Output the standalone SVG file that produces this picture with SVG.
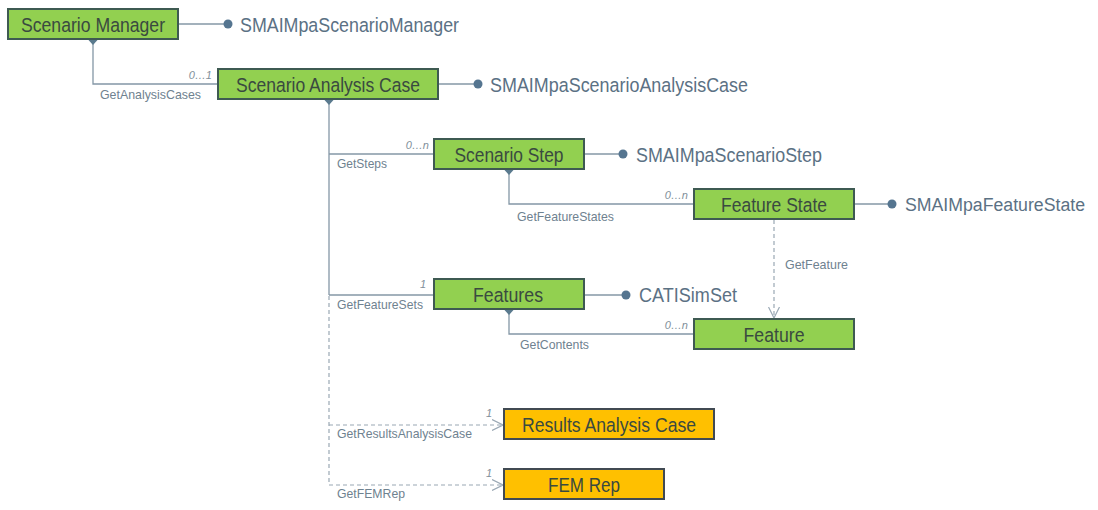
<svg xmlns="http://www.w3.org/2000/svg" width="1098" height="510" viewBox="0 0 1098 510">
<defs>
<style>
.box{fill:#92d050;stroke:#3e5a52;stroke-width:2}
.obox{fill:#ffc000;stroke:#414a52;stroke-width:2}
.bt{font-family:"Liberation Sans",Arial,sans-serif;font-size:20.5px;fill:#3a4a40;text-anchor:middle}
.it{font-family:"Liberation Sans",Arial,sans-serif;font-size:20.5px;fill:#5b7184}
.lb{font-family:"Liberation Sans",Arial,sans-serif;font-size:13px;fill:#6f8290}
.mu{font-family:"Liberation Sans",Arial,sans-serif;font-size:11px;font-style:italic;fill:#7f8f9a;text-anchor:end}
.ln{fill:none;stroke:#8497a6;stroke-width:1.3}
.dl{fill:none;stroke:#9aa8b4;stroke-width:1.2;stroke-dasharray:4,3}
.dot{fill:#557590}
.dia{fill:#5a7a8e}
</style>
<marker id="oa" viewBox="0 0 12 12" refX="11" refY="6" markerWidth="12" markerHeight="12" markerUnits="userSpaceOnUse" orient="auto">
<path d="M0,0.5 L11,6 L0,11.5" fill="none" stroke="#9aa8b4" stroke-width="1.2"/>
</marker>
</defs>
<g id="connectors">
<line class="ln" x1="178" y1="24" x2="228" y2="24"/>
<circle class="dot" cx="228" cy="24" r="4.5"/>
<line class="ln" x1="438" y1="84" x2="478" y2="84"/>
<circle class="dot" cx="478" cy="84" r="4.5"/>
<line class="ln" x1="584" y1="154" x2="623" y2="154"/>
<circle class="dot" cx="623" cy="154" r="4.5"/>
<line class="ln" x1="854" y1="204" x2="892" y2="204"/>
<circle class="dot" cx="892" cy="204" r="4.5"/>
<line class="ln" x1="584" y1="295" x2="626" y2="295"/>
<circle class="dot" cx="626" cy="295" r="4.5"/>
<polyline class="ln" points="93,40 93,84 218,84"/>
<path class="dia" d="M93,35 L97.5,40 L93,45 L88.5,40 Z"/>
<polyline class="ln" points="329,100 329,295"/>
<line class="ln" x1="329" y1="154" x2="433" y2="154"/>
<line class="ln" x1="329" y1="295" x2="434" y2="295"/>
<path class="dia" d="M329,95 L333.5,100 L329,105 L324.5,100 Z"/>
<polyline class="ln" points="509,170 509,204 693,204"/>
<path class="dia" d="M509,165 L513.5,170 L509,175 L504.5,170 Z"/>
<polyline class="ln" points="509,310 509,334 693,334"/>
<path class="dia" d="M509,305 L513.5,310 L509,315 L504.5,310 Z"/>
<polyline class="dl" points="329,296 329,485"/>
<line class="dl" x1="329" y1="425" x2="503" y2="425" marker-end="url(#oa)"/>
<line class="dl" x1="329" y1="485" x2="503" y2="485" marker-end="url(#oa)"/>
<line class="dl" x1="774" y1="220" x2="774" y2="318" marker-end="url(#oa)"/>
<text class="lb" x="100" y="99" textLength="101" lengthAdjust="spacingAndGlyphs">GetAnalysisCases</text>
<text class="mu" x="212" y="79">0…1</text>
<text class="lb" x="337" y="168" textLength="50" lengthAdjust="spacingAndGlyphs">GetSteps</text>
<text class="mu" x="429" y="149">0…n</text>
<text class="lb" x="517" y="221" textLength="97" lengthAdjust="spacingAndGlyphs">GetFeatureStates</text>
<text class="mu" x="688" y="199">0…n</text>
<text class="lb" x="785" y="269" textLength="63" lengthAdjust="spacingAndGlyphs">GetFeature</text>
<text class="lb" x="337" y="309" textLength="86" lengthAdjust="spacingAndGlyphs">GetFeatureSets</text>
<text class="mu" x="426" y="288">1</text>
<text class="lb" x="520" y="349" textLength="69" lengthAdjust="spacingAndGlyphs">GetContents</text>
<text class="mu" x="688" y="329">0…n</text>
<text class="lb" x="337" y="438" textLength="135" lengthAdjust="spacingAndGlyphs">GetResultsAnalysisCase</text>
<text class="mu" x="492" y="417">1</text>
<text class="lb" x="337" y="498" textLength="68" lengthAdjust="spacingAndGlyphs">GetFEMRep</text>
<text class="mu" x="492" y="477">1</text>
</g>
<g id="scenario-manager">
<rect class="box" x="8" y="9" width="170" height="30"/>
<text class="bt" x="93" y="31.5" textLength="144" lengthAdjust="spacingAndGlyphs">Scenario Manager</text>
<text class="it" x="240" y="31.5" textLength="219" lengthAdjust="spacingAndGlyphs">SMAIMpaScenarioManager</text>
</g>
<g id="scenario-analysis-case">
<rect class="box" x="218" y="69" width="220" height="30"/>
<text class="bt" x="328" y="91.5" textLength="184" lengthAdjust="spacingAndGlyphs">Scenario Analysis Case</text>
<text class="it" x="490" y="91.5" textLength="258" lengthAdjust="spacingAndGlyphs">SMAIMpaScenarioAnalysisCase</text>
</g>
<g id="scenario-step">
<rect class="box" x="434" y="139" width="150" height="30"/>
<text class="bt" x="509" y="161.5" textLength="109" lengthAdjust="spacingAndGlyphs">Scenario Step</text>
<text class="it" x="636" y="161.5" textLength="186" lengthAdjust="spacingAndGlyphs">SMAIMpaScenarioStep</text>
</g>
<g id="feature-state">
<rect class="box" x="694" y="189" width="160" height="30"/>
<text class="bt" x="774" y="211.5" textLength="106" lengthAdjust="spacingAndGlyphs">Feature State</text>
<text class="it" x="905" y="211" style="font-size:18px" textLength="180" lengthAdjust="spacingAndGlyphs">SMAIMpaFeatureState</text>
</g>
<g id="features">
<rect class="box" x="434" y="279" width="150" height="30"/>
<text class="bt" x="508" y="301.5" textLength="70" lengthAdjust="spacingAndGlyphs">Features</text>
<text class="it" x="639" y="301.5" textLength="98" lengthAdjust="spacingAndGlyphs">CATISimSet</text>
</g>
<g id="feature">
<rect class="box" x="694" y="319" width="160" height="30"/>
<text class="bt" x="774" y="341.5" textLength="61" lengthAdjust="spacingAndGlyphs">Feature</text>
</g>
<g id="results-analysis-case">
<rect class="obox" x="504" y="409" width="210" height="30"/>
<text class="bt" x="609" y="431.5" textLength="174" lengthAdjust="spacingAndGlyphs">Results Analysis Case</text>
</g>
<g id="fem-rep">
<rect class="obox" x="504" y="469" width="160" height="30"/>
<text class="bt" x="584" y="491.5" textLength="72" lengthAdjust="spacingAndGlyphs">FEM Rep</text>
</g>
</svg>
